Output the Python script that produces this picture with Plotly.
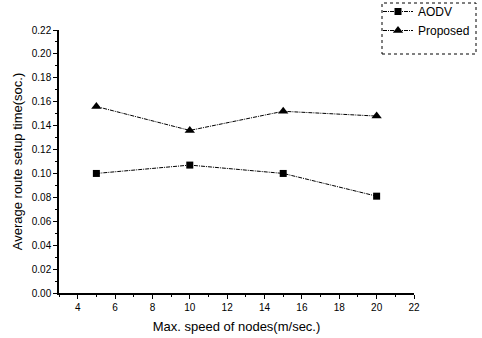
import plotly.graph_objects as go

speed = [5, 10, 15, 20]
aodv = [0.100, 0.107, 0.100, 0.081]
proposed = [0.156, 0.136, 0.152, 0.148]

fig = go.Figure()
fig.add_trace(go.Scatter(x=speed, y=aodv, name="AODV", mode="lines+markers",
                         line=dict(color="black", width=1, dash="4px,1px,1px,1px"),
                         marker=dict(symbol="square", size=7, color="black")))
fig.add_trace(go.Scatter(x=speed, y=proposed, name="Proposed", mode="lines+markers",
                         line=dict(color="black", width=1, dash="4px,1px,1px,1px"),
                         marker=dict(symbol="triangle-up", size=9, color="black")))

font = dict(family="Liberation Sans, Arial, sans-serif", color="black")
fig.update_layout(
    width=482, height=338,
    margin=dict(l=59, r=68, t=30, b=45, autoexpand=False),
    paper_bgcolor="white", plot_bgcolor="white",
    font=dict(size=10, **font),
    showlegend=True,
    legend=dict(x=(378-59)/355, y=(293+3)/263, xanchor="left", yanchor="top",
                bgcolor="rgba(0,0,0,0)", borderwidth=0,
                font=dict(size=12, **font), itemwidth=30,
                tracegroupgap=0),
)
fig.update_xaxes(range=[3, 22], tickmode="linear", tick0=4, dtick=2,
                 showgrid=False, zeroline=False, showline=True, linecolor="black",
                 linewidth=1.5, ticks="outside", ticklen=4, tickcolor="black",
                 tickfont=dict(size=10, **font),
                 minor=dict(ticks="outside", ticklen=2, tickcolor="black", dtick=1, tick0=3),
                 title=dict(text="Max. speed of nodes(m/sec.)", font=dict(size=13, **font), standoff=10))
fig.update_yaxes(range=[0, 0.22], tickmode="linear", tick0=0, dtick=0.02, tickformat=".2f",
                 showgrid=False, zeroline=False, showline=True, linecolor="black",
                 linewidth=1.5, ticks="outside", ticklen=4, tickcolor="black",
                 tickfont=dict(size=10, **font),
                 minor=dict(ticks="outside", ticklen=2, tickcolor="black", dtick=0.01),
                 title=dict(text="Average route setup time(soc.)", font=dict(size=13, **font), standoff=6))
fig.add_shape(type="rect", xref="paper", yref="paper",
              x0=(382-59)/355, x1=(476-59)/355, y0=(293-54)/263, y1=(293-3)/263,
              line=dict(color="black", width=1, dash="dot"))

fig.write_html("out.html")
